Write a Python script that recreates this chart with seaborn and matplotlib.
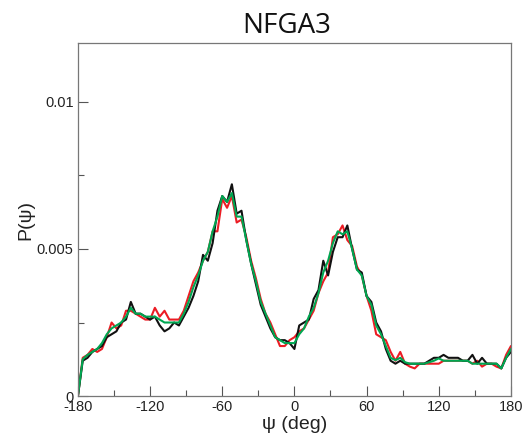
import numpy as np
import pandas as pd
import matplotlib
matplotlib.use("Agg")
import matplotlib.pyplot as plt
from matplotlib.ticker import MultipleLocator
import seaborn as sns

psi = list(range(-180, 181, 4))

p_black = [0.0, 0.0012, 0.0013, 0.0015, 0.0016, 0.0017, 0.0020, 0.0021, 0.0022, 0.0025,
           0.0026, 0.0032, 0.0028, 0.0028, 0.0027, 0.0026, 0.0027, 0.0024, 0.0022, 0.0023,
           0.0025, 0.0024, 0.0027, 0.0030, 0.0034, 0.0039, 0.0048, 0.0046, 0.0052, 0.0063,
           0.0068, 0.0066, 0.0072, 0.0062, 0.0063, 0.0053, 0.0045, 0.0038, 0.0031, 0.0027,
           0.0023, 0.0020, 0.0019, 0.0019, 0.0018, 0.0016, 0.0024, 0.0025, 0.0026, 0.0033,
           0.0036, 0.0046, 0.0041, 0.0049, 0.0054, 0.0054, 0.0058, 0.0050, 0.0043, 0.0042,
           0.0034, 0.0032, 0.0025, 0.0022, 0.0016, 0.0012, 0.0011, 0.0012, 0.0011, 0.0011,
           0.0011, 0.0011, 0.0011, 0.0012, 0.0013, 0.0013, 0.0014, 0.0013, 0.0013, 0.0013,
           0.0012, 0.0012, 0.0014, 0.0011, 0.0013, 0.0011, 0.0011, 0.0011, 0.00094, 0.0013,
           0.0015]

p_red = [0.0, 0.0013, 0.0014, 0.0016, 0.0015, 0.0016, 0.0020, 0.0025, 0.0023, 0.0024,
         0.0029, 0.0029, 0.0028, 0.0027, 0.0026, 0.0026, 0.0030, 0.0027, 0.0029, 0.0026,
         0.0026, 0.0026, 0.0029, 0.0034, 0.0039, 0.0042, 0.0046, 0.0049, 0.0056, 0.0056,
         0.0067, 0.0064, 0.0068, 0.0059, 0.0060, 0.0054, 0.0046, 0.0040, 0.0033, 0.0028,
         0.0025, 0.0021, 0.0017, 0.0017, 0.0019, 0.0020, 0.0022, 0.0023, 0.0026, 0.0029,
         0.0035, 0.0039, 0.0042, 0.0054, 0.0055, 0.0058, 0.0053, 0.0051, 0.0044, 0.0041,
         0.0034, 0.0029, 0.0021, 0.0020, 0.0019, 0.0015, 0.0012, 0.0015, 0.0011, 0.0010,
         0.00094, 0.0011, 0.0011, 0.0011, 0.0011, 0.0011, 0.0012, 0.0012, 0.0012, 0.0012,
         0.0012, 0.0012, 0.0011, 0.0012, 0.0010, 0.0011, 0.0011, 0.0010, 0.00094, 0.0014,
         0.0017]

p_green = [0.0, 0.00125, 0.0014, 0.0015, 0.0016, 0.0018, 0.0021, 0.0023, 0.0024, 0.0025,
           0.0027, 0.0030, 0.0028, 0.0028, 0.0027, 0.0027, 0.0027, 0.0026, 0.0025, 0.0025,
           0.0025, 0.0025, 0.0028, 0.0032, 0.0037, 0.0041, 0.0046, 0.0049, 0.0056, 0.0061,
           0.0068, 0.0066, 0.0069, 0.0061, 0.0061, 0.0053, 0.0045, 0.0039, 0.0032, 0.0028,
           0.0024, 0.0020, 0.0019, 0.0018, 0.0018, 0.0018, 0.0021, 0.0023, 0.0027, 0.0030,
           0.0035, 0.0042, 0.0046, 0.0052, 0.0056, 0.0055, 0.0056, 0.0050, 0.0043, 0.0041,
           0.0034, 0.0031, 0.0024, 0.0021, 0.0017, 0.0013, 0.00122, 0.0013, 0.00115, 0.0011,
           0.0011, 0.0011, 0.0011, 0.00115, 0.0012, 0.00128, 0.0012, 0.0012, 0.0012, 0.0012,
           0.0012, 0.0012, 0.0011, 0.0011, 0.0011, 0.0011, 0.0011, 0.0011, 0.00094, 0.0013,
           0.0016]

series_names = ["red", "black", "green"]
series_colors = {"red": "#ec1c24", "black": "#111111", "green": "#00a651"}

frames = []
for name, vals in zip(series_names, [p_red, p_black, p_green]):
    frames.append(pd.DataFrame({"psi": psi, "P": vals, "run": name}))
df = pd.concat(frames, ignore_index=True)

sns.set_style("ticks")
plt.rcParams["font.family"] = ["Liberation Sans", "DejaVu Sans"]

fig = plt.figure(figsize=(5.30, 4.44), dpi=100)
ax = fig.add_axes([0.147, 0.108, 0.817, 0.795])

sns.lineplot(data=df, x="psi", y="P", hue="run", hue_order=series_names,
             palette=series_colors, linewidth=1.5, legend=False, ax=ax,
             estimator=None, sort=False)

ax.set_xlim(-180, 180)
ax.set_ylim(0, 0.012)
ax.set_xticks([-180, -120, -60, 0, 60, 120, 180])
ax.set_xticklabels(["-180", "-120", "-60", "0", "60", "120", "180"])
ax.xaxis.set_minor_locator(MultipleLocator(30))
ax.set_yticks([0, 0.005, 0.01])
ax.set_yticklabels(["0", "0.005", "0.01"])
ax.yaxis.set_minor_locator(MultipleLocator(0.0025))

ax.tick_params(axis="both", which="major", direction="in", length=7, width=0.8,
               color="#555555", labelsize=10.5, labelcolor="#222222", pad=3)
ax.tick_params(axis="both", which="minor", direction="in", length=4, width=0.8,
               color="#555555")
ax.tick_params(top=False, right=False, which="both")
for s in ax.spines.values():
    s.set_color("#777777")
    s.set_linewidth(0.9)

ax.set_xlabel("\u03c8 (deg)", fontsize=14, color="#222222", labelpad=1)
ax.set_ylabel("P(\u03c8)", fontsize=14, color="#222222", labelpad=2)
ax.set_title("NFGA3", fontsize=20, color="#111111", pad=7, x=0.483,
             family=["Open Sans", "DejaVu Sans"])

fig.savefig("out.png", dpi=100)
